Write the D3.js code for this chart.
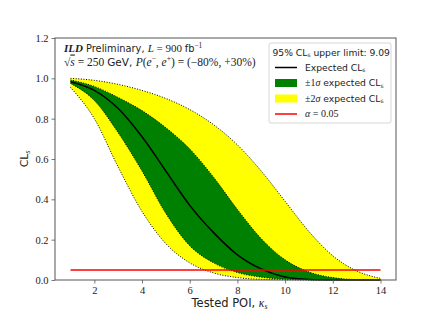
<!DOCTYPE html>
<html lang="en">
  <head>
    <meta charset="UTF-8" />
    <title>CLs scan</title>
    <style>
      body { margin: 0; background: #fff; }
      .band-edge { fill: none; stroke: #000; stroke-width: 1px; stroke-dasharray: 1 1.6; }
      .tick text { font-family: "Liberation Serif", serif; font-size: 10.5px; fill: #222; }
      .sans { font-family: "DejaVu Sans", sans-serif; }
      .serif { font-family: "Liberation Serif", serif; }
    </style>
  </head>
  <body>
    <svg></svg>
    <script src="https://cdnjs.cloudflare.com/ajax/libs/d3/7.8.5/d3.min.js"></script>
    <script>
      // tested POI values and CLs
      const kappa = [1, 2, 3, 4, 5, 6, 7, 8, 9, 10, 11, 12, 13, 14];
      const expected = [0.983, 0.94, 0.85, 0.71, 0.54, 0.37, 0.235, 0.125, 0.055, 0.015, 0.003, 0.0005, 0, 0];
      const minus1 = [0.975, 0.89, 0.73, 0.54, 0.33, 0.17, 0.085, 0.037, 0.014, 0.004, 0.001, 0, 0, 0];
      const plus1 = [0.992, 0.96, 0.905, 0.84, 0.755, 0.65, 0.51, 0.35, 0.205, 0.1, 0.04, 0.012, 0.002, 0];
      const minus2 = [0.955, 0.8, 0.56, 0.34, 0.18, 0.085, 0.035, 0.012, 0.003, 0.001, 0, 0, 0, 0];
      const plus2 = [1.0, 0.99, 0.97, 0.94, 0.9, 0.845, 0.77, 0.67, 0.54, 0.39, 0.24, 0.12, 0.045, 0.008];
      const alpha = 0.05;
      const upperLimit = "9.09";
      const xTicks = [2, 4, 6, 8, 10, 12, 14];
      const yTicks = [0.0, 0.2, 0.4, 0.6, 0.8, 1.0, 1.2];

      const width = 440, height = 315;
      const margin = { top: 38, right: 44, bottom: 35, left: 55 };
      const w = width - margin.left - margin.right;
      const h = height - margin.top - margin.bottom;

      const svg = d3.select("svg").attr("width", width).attr("height", height);
      const g = svg.append("g").attr("transform", "translate(" + [margin.left, margin.top] + ")");

      const x = d3.scaleLinear().domain([0.35, 14.65]).range([0, w]);
      const y = d3.scaleLinear().domain([0, 1.2]).range([h, 0]);

      const rows = kappa.map((k, i) => ({
        k: k, med: expected[i], m1: minus1[i], p1: plus1[i], m2: minus2[i], p2: plus2[i]
      }));

      const curve = d3.curveMonotoneX;
      const area = (lo, hi) => d3.area().curve(curve)
        .x(d => x(d.k)).y0(d => y(d[lo])).y1(d => y(d[hi]));
      const line = key => d3.line().curve(curve).x(d => x(d.k)).y(d => y(d[key]));

      g.append("path").datum(rows).attr("d", area("m2", "p2")).attr("fill", "#ffff00");
      g.append("path").datum(rows).attr("d", area("m1", "p1")).attr("fill", "#008000");
      ["m2", "p2", "m1", "p1"].forEach(key => {
        g.append("path").datum(rows).attr("class", "band-edge").attr("d", line(key));
      });
      g.append("path").datum(rows).attr("d", line("med"))
        .attr("fill", "none").attr("stroke", "#000").attr("stroke-width", 1.5);

      g.append("line")
        .attr("x1", x(kappa[0])).attr("x2", x(kappa[kappa.length - 1]))
        .attr("y1", y(alpha)).attr("y2", y(alpha))
        .attr("stroke", "#ff0000").attr("stroke-width", 1.5);

      // axes
      const xAxis = g.append("g").attr("transform", "translate(0," + h + ")")
        .call(d3.axisBottom(x).tickValues(xTicks).tickSize(3.5).tickPadding(3).tickFormat(d3.format("d")));
      const yAxis = g.append("g")
        .call(d3.axisLeft(y).tickValues(yTicks).tickSize(3.5).tickPadding(3).tickFormat(d3.format(".1f")));
      [xAxis, yAxis].forEach(a => {
        a.select(".domain").remove();
        a.selectAll(".tick line").attr("stroke", "#555").attr("stroke-width", 0.8);
      });
      g.append("rect").attr("width", w).attr("height", h)
        .attr("fill", "none").attr("stroke", "#555").attr("stroke-width", 1);

      // axis labels
      const xl = svg.append("text").attr("x", margin.left + w / 2 + 4).attr("y", 307)
        .attr("text-anchor", "middle").attr("font-size", 11.5).attr("fill", "#222");
      xl.append("tspan").attr("class", "sans").text("Tested POI, ");
      xl.append("tspan").attr("class", "serif").attr("font-style", "italic").text("κ");
      xl.append("tspan").attr("class", "serif").attr("font-style", "italic").attr("font-size", 8)
        .attr("dy", 2).text("s");

      const yl = svg.append("text")
        .attr("transform", "translate(28," + (margin.top + h / 2) + ") rotate(-90)")
        .attr("text-anchor", "middle").attr("font-size", 11).attr("fill", "#222");
      yl.append("tspan").attr("class", "sans").text("CL");
      yl.append("tspan").attr("class", "serif").attr("font-style", "italic").attr("font-size", 7.5).attr("dy", 2).text("s");

      // annotation
      const a1 = svg.append("text").attr("x", 64).attr("y", 52).attr("font-size", 11).attr("fill", "#222");
      a1.append("tspan").attr("class", "serif").attr("font-weight", "bold").attr("font-style", "italic").text("ILD");
      a1.append("tspan").attr("class", "sans").attr("font-size", 9.8).text(" Preliminary, ");
      a1.append("tspan").attr("class", "serif").attr("font-style", "italic").text("L");
      a1.append("tspan").attr("class", "serif").text(" = 900 ");
      a1.append("tspan").attr("class", "sans").attr("font-size", 9.8).text("fb");
      a1.append("tspan").attr("class", "serif").attr("font-size", 7.5).attr("dy", -4.5).text("−1");

      const a2 = svg.append("text").attr("x", 64).attr("y", 65.5).attr("font-size", 11.5).attr("fill", "#222");
      a2.append("tspan").attr("class", "serif").text("√");
      a2.append("tspan").attr("class", "serif").attr("font-style", "italic")
        .attr("text-decoration", "overline").text("s");
      a2.append("tspan").attr("class", "serif").text(" = 250 ");
      a2.append("tspan").attr("class", "sans").attr("font-size", 10.5).text("GeV, ");
      a2.append("tspan").attr("class", "serif").attr("font-style", "italic").text("P");
      a2.append("tspan").attr("class", "serif").text("(");
      a2.append("tspan").attr("class", "serif").attr("font-style", "italic").text("e");
      a2.append("tspan").attr("class", "serif").attr("font-size", 7.5).attr("dy", -4.5).text("−");
      a2.append("tspan").attr("class", "serif").attr("dy", 4.5).text(", ");
      a2.append("tspan").attr("class", "serif").attr("font-style", "italic").text("e");
      a2.append("tspan").attr("class", "serif").attr("font-size", 7.5).attr("dy", -4.5).text("+");
      a2.append("tspan").attr("class", "serif").attr("dy", 4.5).text(") = (−80%, +30%)");

      // legend
      const lg = svg.append("g").attr("transform", "translate(269,43)");
      lg.append("rect").attr("width", 122).attr("height", 80).attr("rx", 2)
        .attr("fill", "#fff").attr("fill-opacity", 0.8).attr("stroke", "#ccc").attr("stroke-width", 0.8);
      const lt = lg.append("text").attr("x", 3.5).attr("y", 12.5).attr("font-size", 9.2).attr("fill", "#222").attr("class", "sans");
      lt.append("tspan").text("95% CL");
      lt.append("tspan").attr("font-size", 6).attr("dy", 1.5).text("s");
      lt.append("tspan").attr("dy", -1.5).text(" upper limit: " + upperLimit);

      const entries = [
        { type: "line", color: "#000", label: ["Expected CL", "s"] },
        { type: "patch", color: "#008000", label: ["±1", "σ", " expected CL", "s"] },
        { type: "patch", color: "#ffff00", label: ["±2", "σ", " expected CL", "s"] },
        { type: "line", color: "#ff0000", label: ["α", " = 0.05"] }
      ];
      entries.forEach((e, i) => {
        const cy = 24.5 + i * 15.5;
        if (e.type === "line") {
          lg.append("line").attr("x1", 6).attr("x2", 28).attr("y1", cy).attr("y2", cy)
            .attr("stroke", e.color).attr("stroke-width", 1.5);
        } else {
          lg.append("rect").attr("x", 6).attr("y", cy - 4).attr("width", 22).attr("height", 8)
            .attr("fill", e.color);
        }
        const t = lg.append("text").attr("x", 36).attr("y", cy + 3.3).attr("font-size", 9.2).attr("fill", "#222");
        if (i === 0) {
          t.append("tspan").attr("class", "sans").text("Expected CL");
          t.append("tspan").attr("class", "sans").attr("font-size", 6).attr("dy", 1.5).text("s");
        } else if (i < 3) {
          t.append("tspan").attr("class", "serif").attr("font-size", 10).text(e.label[0]);
          t.append("tspan").attr("class", "serif").attr("font-size", 10).attr("font-style", "italic").text(e.label[1]);
          t.append("tspan").attr("class", "sans").text(e.label[2]);
          t.append("tspan").attr("class", "sans").attr("font-size", 6).attr("dy", 1.5).text("s");
        } else {
          t.append("tspan").attr("class", "serif").attr("font-size", 10).attr("font-style", "italic").text("α");
          t.append("tspan").attr("class", "serif").attr("font-size", 10).text(" = 0.05");
        }
      });
    </script>
  </body>
</html>
